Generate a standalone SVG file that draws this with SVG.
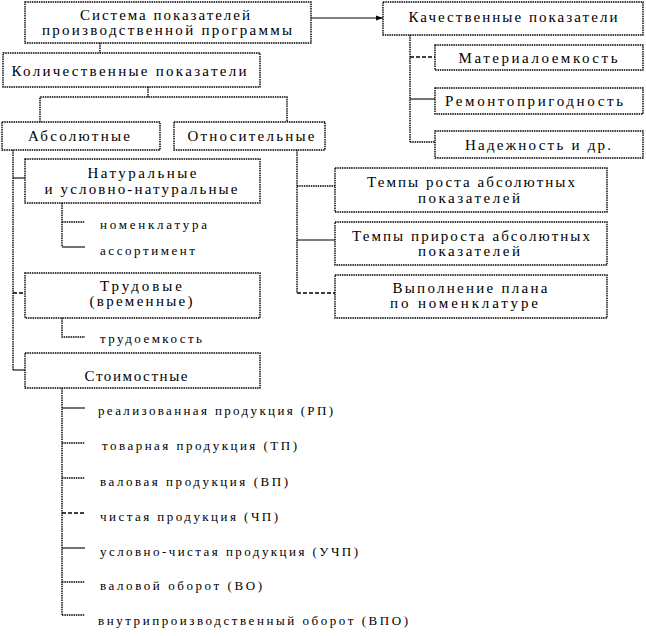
<svg xmlns="http://www.w3.org/2000/svg" width="646" height="636" viewBox="0 0 646 636">
<defs>
<marker id="arr" markerWidth="8" markerHeight="8" refX="7" refY="4" orient="auto" markerUnits="userSpaceOnUse">
<path d="M0,1.5 L7,4 L0,6.5 Z" fill="#000"/>
</marker>
<style>
.box{fill:#fff;stroke:#000;stroke-width:1.4;stroke-dasharray:1.5 0.8}
.t{font-family:"Liberation Serif","Times New Roman",serif;font-size:15px;fill:#000;text-anchor:middle}
.s{font-family:"Liberation Serif","Times New Roman",serif;font-size:13px;fill:#000}
.dot{fill:none;stroke:#000;stroke-width:1.4;stroke-dasharray:1.5 0.8}
.dash{fill:none;stroke:#000;stroke-width:1.4;stroke-dasharray:4 2}
.sol{fill:none;stroke:#000;stroke-width:1.1}
</style>
</defs>
<rect width="646" height="636" fill="#fff"/>
<g id="connectors">
<line class="sol" x1="311" y1="18" x2="383" y2="18" marker-end="url(#arr)"/>
<line class="dot" x1="100" y1="43" x2="100" y2="53"/>
<polyline class="dot" points="148,87 148,97"/>
<polyline class="dot" points="40,122 40,97 287,97 287,122"/>
<line class="dot" x1="410" y1="35" x2="410" y2="142"/>
<line class="dash" x1="410" y1="57" x2="435" y2="57"/>
<line class="sol" x1="410" y1="99" x2="435" y2="99"/>
<line class="dot" x1="410" y1="142" x2="435" y2="142"/>
<line class="dot" x1="13" y1="150" x2="13" y2="370"/>
<line class="sol" x1="13" y1="178" x2="25" y2="178"/>
<line class="dash" x1="13" y1="293" x2="25" y2="293"/>
<line class="sol" x1="13" y1="370" x2="25" y2="370"/>
<line class="dot" x1="62" y1="203" x2="62" y2="247"/>
<line class="dot" x1="62" y1="222" x2="85" y2="222"/>
<line class="sol" x1="62" y1="247" x2="85" y2="247"/>
<polyline class="dot" points="62,318 62,337 85,337"/>
<line class="dot" x1="62" y1="388" x2="62" y2="615"/>
<line class="sol" x1="62" y1="408" x2="85" y2="408"/>
<line class="dot" x1="62" y1="443" x2="85" y2="443"/>
<line class="dot" x1="62" y1="478" x2="85" y2="478"/>
<line class="dash" x1="62" y1="513" x2="85" y2="513"/>
<line class="sol" x1="62" y1="548" x2="85" y2="548"/>
<line class="dot" x1="62" y1="582" x2="85" y2="582"/>
<line class="dot" x1="62" y1="615" x2="85" y2="615"/>
<line class="dot" x1="297" y1="150" x2="297" y2="293"/>
<line class="dot" x1="297" y1="186" x2="335" y2="186"/>
<line class="sol" x1="297" y1="240" x2="335" y2="240"/>
<line class="dash" x1="297" y1="293" x2="335" y2="293"/>
</g>
<g id="n-system">
<rect class="box" x="25" y="2" width="286" height="41"/>
<text class="t" x="165" y="20" textLength="170">Система показателей</text>
<text class="t" x="167" y="35" textLength="250">производственной программы</text>
</g>
<g id="n-kach">
<rect class="box" x="383" y="2" width="260" height="33"/>
<text class="t" x="513" y="22" textLength="209">Качественные показатели</text>
</g>
<g id="n-kol">
<rect class="box" x="3" y="53" width="257" height="34"/>
<text class="t" x="129" y="76" textLength="235">Количественные показатели</text>
</g>
<g id="n-mat">
<rect class="box" x="435" y="45" width="208" height="25"/>
<text class="t" x="538" y="63" textLength="159">Материалоемкость</text>
</g>
<g id="n-rem">
<rect class="box" x="435" y="88" width="208" height="26"/>
<text class="t" x="534" y="106" textLength="178">Ремонтопригодность</text>
</g>
<g id="n-nad">
<rect class="box" x="435" y="131" width="208" height="27"/>
<text class="t" x="538" y="150" textLength="146">Надежность и др.</text>
</g>
<g id="n-abs">
<rect class="box" x="2" y="122" width="158" height="28"/>
<text class="t" x="79" y="141" textLength="102">Абсолютные</text>
</g>
<g id="n-otn">
<rect class="box" x="174" y="122" width="151" height="28"/>
<text class="t" x="251" y="141" textLength="127">Относительные</text>
</g>
<g id="n-nat">
<rect class="box" x="25" y="159" width="235" height="44"/>
<text class="t" x="142" y="178" textLength="109">Натуральные</text>
<text class="t" x="141" y="194" textLength="193">и условно-натуральные</text>
</g>
<text class="s" x="100" y="229" textLength="107">номенклатура</text>
<text class="s" x="100" y="255" textLength="95">ассортимент</text>
<g id="n-trud">
<rect class="box" x="25" y="273" width="235" height="45"/>
<text class="t" x="141" y="291" textLength="82">Трудовые</text>
<text class="t" x="141" y="306" textLength="103">(временные)</text>
</g>
<text class="s" x="100" y="343" textLength="102">трудоемкость</text>
<g id="n-stoim">
<rect class="box" x="25" y="353" width="235" height="35"/>
<text class="t" x="136" y="381" textLength="103">Стоимостные</text>
</g>
<g id="n-rost">
<rect class="box" x="335" y="168" width="272" height="44"/>
<text class="t" x="471" y="187" textLength="208">Темпы роста абсолютных</text>
<text class="t" x="469" y="203" textLength="102">показателей</text>
</g>
<g id="n-prirost">
<rect class="box" x="335" y="222" width="272" height="43"/>
<text class="t" x="471" y="241" textLength="238">Темпы прироста абсолютных</text>
<text class="t" x="469" y="256" textLength="102">показателей</text>
</g>
<g id="n-vyp">
<rect class="box" x="335" y="275" width="272" height="43"/>
<text class="t" x="470" y="293" textLength="155">Выполнение плана</text>
<text class="t" x="464" y="308" textLength="148">по номенклатуре</text>
</g>
<g id="list">
<text class="s" x="98" y="415" textLength="235">реализованная продукция (РП)</text>
<text class="s" x="102" y="450" textLength="195">товарная продукция (ТП)</text>
<text class="s" x="100" y="486" textLength="188">валовая продукция (ВП)</text>
<text class="s" x="100" y="521" textLength="178">чистая продукция (ЧП)</text>
<text class="s" x="100" y="556" textLength="258">условно-чистая продукция (УЧП)</text>
<text class="s" x="100" y="590" textLength="162">валовой оборот (ВО)</text>
<text class="s" x="98" y="625" textLength="310">внутрипроизводственный оборот (ВПО)</text>
</g>
</svg>
